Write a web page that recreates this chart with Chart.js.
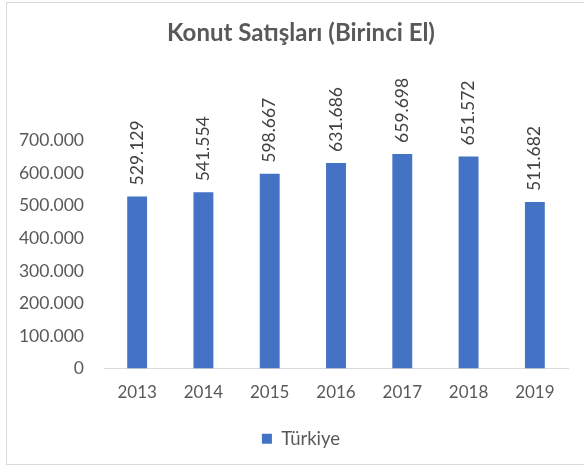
<!DOCTYPE html>
<html>
<head>
<meta charset="utf-8">
<script src="https://cdn.jsdelivr.net/npm/chart.js@4.4.0/dist/chart.umd.min.js"></script>
<style>
  html, body { margin: 0; padding: 0; background: #fff; }
  .wrap { position: relative; width: 584px; height: 468px; overflow: hidden; }
  .frame { position: absolute; left: 6px; top: 2px; width: 600px; height: 463px; border: 1px solid #d9d9d9; box-sizing: border-box; }
  canvas { position: absolute; left: 0; top: 0; }
</style>
</head>
<body>
<div class="wrap">
  <div class="frame"></div>
  <canvas id="chart" width="584" height="468"></canvas>
</div>
<script>
// Konut satışları (birinci el), Türkiye
const years = ['2013', '2014', '2015', '2016', '2017', '2018', '2019'];
const sales = [529129, 541554, 598667, 631686, 659698, 651572, 511682];
const yTicks = [0, 100000, 200000, 300000, 400000, 500000, 600000, 700000];

const dotted = (v) => String(v).replace(/\B(?=(\d{3})+(?!\d))/g, '.');

// değer etiketleri (dikey, çubuğun üstünde)
const barLabels = {
  id: 'barLabels',
  afterDatasetsDraw(chart) {
    const ctx = chart.ctx;
    const meta = chart.getDatasetMeta(0);
    ctx.save();
    ctx.font = '17.5px Lato';
    ctx.fillStyle = '#404040';
    ctx.textAlign = 'left';
    ctx.textBaseline = 'middle';
    meta.data.forEach((bar, i) => {
      ctx.save();
      ctx.translate(bar.x, bar.y - 11);
      ctx.rotate(-Math.PI / 2);
      ctx.fillText(dotted(sales[i]), 0, 0);
      ctx.restore();
    });
    ctx.restore();
  }
};

// başlık ve lejant biraz sağa kayık
const shiftBoxes = {
  id: 'shiftBoxes',
  afterLayout(chart) {
    [chart.titleBlock, chart.legend].forEach(b => { b.left += 17; b.right += 17; });
  }
};

new Chart(document.getElementById('chart'), {
  type: 'bar',
  data: {
    labels: years,
    datasets: [{
      label: 'Türkiye',
      data: sales,
      backgroundColor: '#4472c4',
      borderWidth: 0,
      barPercentage: 0.3,
      categoryPercentage: 1
    }]
  },
  options: {
    responsive: false,
    animation: false,
    layout: { padding: { left: 0, right: 16, top: 0, bottom: 10 } },
    plugins: {
      title: {
        display: true,
        text: 'Konut Satışları (Birinci El)',
        color: '#595959',
        font: { family: 'Lato', size: 24, weight: 'bold' },
        padding: { top: 19, bottom: 93 }
      },
      legend: {
        position: 'bottom',
        labels: {
          color: '#595959',
          font: { family: 'Lato', size: 18.5 },
          boxWidth: 10,
          boxHeight: 10,
          padding: 12
        }
      },
      tooltip: { enabled: false }
    },
    scales: {
      x: {
        grid: { display: false, drawTicks: false },
        border: { color: '#d9d9d9' },
        ticks: { color: '#595959', font: { family: 'Lato', size: 17 }, padding: 14 },
        afterFit: (s) => { s.height = 49; }
      },
      y: {
        min: 0,
        max: 700000,
        grid: { display: false, drawTicks: false },
        border: { display: false },
        afterBuildTicks: (s) => { s.ticks = yTicks.map(v => ({ value: v })); },
        ticks: {
          color: '#595959',
          font: { family: 'Lato', size: 17.5 },
          padding: 20,
          callback: (v) => dotted(v)
        },
        afterFit: (s) => { s.width = 104; }
      }
    }
  },
  plugins: [barLabels, shiftBoxes]
});
</script>
</body>
</html>
